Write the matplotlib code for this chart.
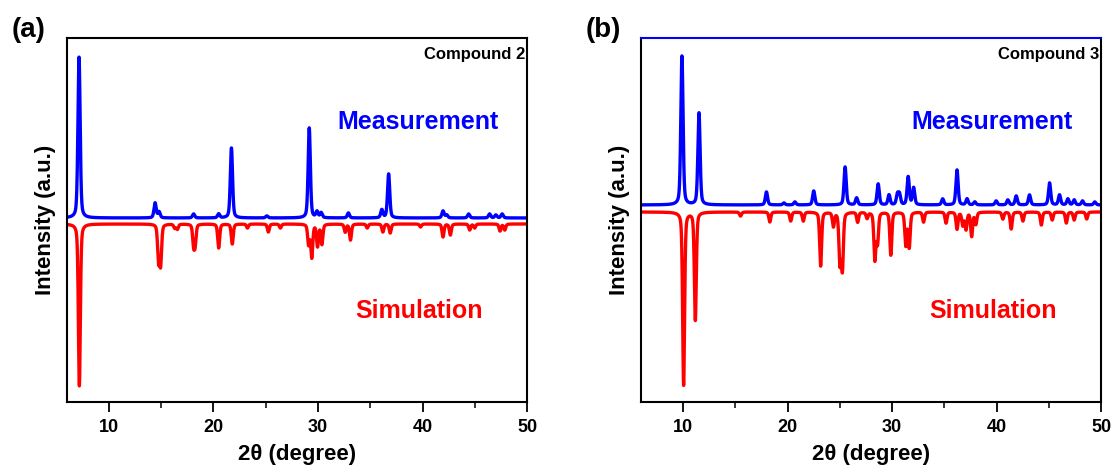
import numpy as np
import matplotlib.pyplot as plt
from matplotlib.ticker import MultipleLocator

plt.rcParams['font.family'] = ['Liberation Sans', 'DejaVu Sans']
plt.rcParams['font.weight'] = 'bold'

# peak lists: 2theta position, height (arbitrary units)
meas2_pos = [7.15, 14.42, 14.8, 18.1, 20.5, 21.72, 25.1, 29.16, 29.9, 30.3, 32.9,
             36.1, 36.75, 41.95, 42.3, 44.4, 46.4, 47.0, 47.6]
meas2_h = [161, 15, 6, 4, 4, 70, 2, 90, 6, 5, 5, 8, 44, 7, 3, 4, 4, 3, 4]

sim2_pos = [7.18, 14.75, 14.95, 16.3, 16.55, 18.1, 18.25, 20.5, 21.8, 23.25, 25.25,
            26.4, 29.1, 29.4, 29.95, 30.37, 32.6, 33.1, 34.7, 36.2, 36.9, 39.8,
            41.95, 42.65, 44.5, 44.97, 47.4, 47.85]
sim2_h = [162, 35, 38, 4, 5, 19, 18, 24, 20, 4, 8, 4, 20, 33, 22, 20, 8, 16, 4, 8, 9,
          3, 13, 11, 6, 4, 7, 6]

meas3_pos = [9.9, 11.53, 17.98, 19.65, 20.7, 22.5, 25.5, 26.6, 28.66, 29.7, 30.5,
             30.7, 31.53, 32.05, 34.83, 36.2, 37.16, 37.9, 39.94, 41.06, 41.86,
             43.13, 45.05, 46.0, 46.8, 47.4, 48.2, 49.37]
meas3_h = [149, 92, 13, 2, 3, 14, 38, 7, 21, 10, 10, 10, 28, 17, 6, 35, 6, 3, 4, 5, 9,
           10, 22, 10, 6, 5, 4, 3]

sim3_pos = [10.06, 11.18, 15.5, 18.3, 20.3, 21.5, 23.16, 24.38, 25.0, 25.24, 26.7,
            27.6, 28.34, 28.6, 29.87, 31.3, 31.63, 33.0, 35.15, 36.2, 36.75, 37.06,
            37.6, 38.0, 40.58, 41.38, 42.5, 44.26, 45.3, 46.65, 47.4, 48.6]
sim3_h = [173, 108, 4, 10, 9, 9, 54, 14, 50, 56, 10, 6, 47, 30, 43, 33, 35, 10, 11, 17,
          13, 17, 24, 12, 7, 17, 9, 13, 8, 11, 8, 7]


def pattern(x, pos, h, w=0.25, eta=0.4):
    y = np.zeros_like(x)
    for p, a in zip(pos, h):
        g = np.exp(-4 * np.log(2) * ((x - p) / w) ** 2)
        l = 1 / (1 + 4 * ((x - p) / w) ** 2)
        y += a * ((1 - eta) * g + eta * l)
    return y


x = np.linspace(6, 50, 4000)

fig = plt.figure(figsize=(11.17, 4.68), dpi=100)
panels = [
    (0.060, '(a)', 'Compound 2', meas2_pos, meas2_h, sim2_pos, sim2_h, 184, 178),
    (0.574, '(b)', 'Compound 3', meas3_pos, meas3_h, sim3_pos, sim3_h, 197, 190),
]

for left, tag, name, mp, mh, sp, sh, mbase, sbase in panels:
    ax = fig.add_axes([left, 0.141, 0.412, 0.778])
    ax.plot(x, mbase + pattern(x, mp, mh), color='#0000ff', lw=2.4)
    ax.plot(x, sbase - pattern(x, sp, sh, w=0.22), color='#ff0000', lw=2.4)
    ax.set_xlim(6, 50)
    ax.set_ylim(0, 364)
    ax.set_yticks([])
    ax.xaxis.set_major_locator(MultipleLocator(10))
    ax.xaxis.set_minor_locator(MultipleLocator(5))
    ax.tick_params(axis='x', which='major', direction='out', length=7, width=1.3,
                   labelsize=13, pad=5)
    ax.tick_params(axis='x', which='minor', direction='out', length=4, width=1.1)
    for s in ax.spines.values():
        s.set_linewidth(1.5)
    if tag == '(b)':
        ax.spines['top'].set_color('#0000ff')
    ax.set_xlabel('2θ (degree)', fontsize=16, fontweight='bold', labelpad=6)
    ax.set_ylabel('Intensity (a.u.)', fontsize=16, fontweight='bold', labelpad=8)
    ax.text(0.995, 0.975, name, transform=ax.transAxes, ha='right', va='top',
            fontsize=12, fontweight='bold', color='black')
    ax.text(0.763, 0.77, 'Measurement', transform=ax.transAxes, ha='center',
            va='center', fontsize=18, fontweight='bold', color='#0000ff')
    ax.text(0.765, 0.25, 'Simulation', transform=ax.transAxes, ha='center',
            va='center', fontsize=18, fontweight='bold', color='#ff0000')
    ax.text(-0.12, 1.058, tag, transform=ax.transAxes, ha='left', va='top',
            fontsize=20, fontweight='bold')

fig.savefig('out.png', dpi=100)
